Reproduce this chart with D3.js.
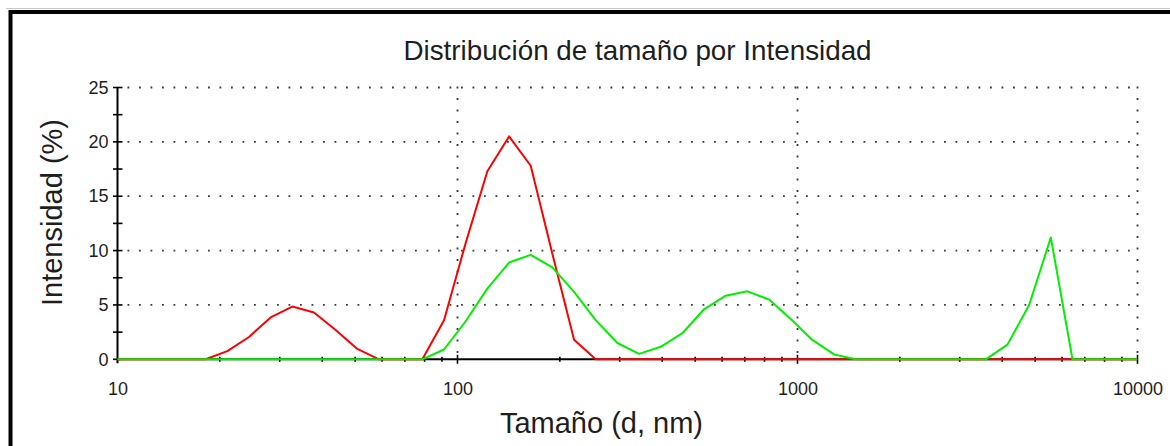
<!DOCTYPE html>
<html>
<head>
<meta charset="utf-8">
<script src="https://cdn.jsdelivr.net/npm/d3@7/dist/d3.min.js"></script>
<style>
  html, body { margin: 0; padding: 0; background: #fff; }
  svg { display: block; }
  text { font-family: "Liberation Sans", Arial, sans-serif; fill: #1e1e1e; }
</style>
</head>
<body>
<script>
// Size classes (d, nm) of the distribution, log-spaced
const sizes = [8.721, 10.1, 11.7, 13.54, 15.69, 18.17, 21.04, 24.36, 28.21, 32.67,
  37.84, 43.82, 50.75, 58.77, 68.06, 78.82, 91.28, 105.7, 122.4, 141.8,
  164.2, 190.1, 220.2, 255, 295.3, 342, 396.1, 458.7, 531.2, 615.1,
  712.4, 825, 955.4, 1106, 1281, 1484, 1718, 1990, 2305, 2669,
  3091, 3580, 4145, 4801, 5560, 6439, 7456, 8635, 10000];

// Intensity (%) per size class, record 1 (red)
const redPct = [0, 0, 0, 0, 0, 0, 0.75, 2.05, 3.85, 4.85,
  4.3, 2.7, 0.95, 0, 0, 0, 3.6, 10.7, 17.3, 20.5,
  17.8, 9.7, 1.8, 0, 0, 0, 0, 0, 0, 0,
  0, 0, 0, 0, 0, 0, 0, 0, 0, 0,
  0, 0, 0, 0, 0, 0, 0, 0, 0];

// Intensity (%) per size class, record 2 (green)
const greenPct = [0, 0, 0, 0, 0, 0, 0, 0, 0, 0,
  0, 0, 0, 0, 0, 0, 0.9, 3.5, 6.5, 8.9,
  9.6, 8.45, 6.2, 3.6, 1.5, 0.5, 1.15, 2.4, 4.6, 5.85,
  6.25, 5.5, 3.7, 1.78, 0.45, 0, 0, 0, 0, 0,
  0, 0, 1.35, 5.0, 11.2, 0, 0, 0, 0];

const xTickLabels = [10, 100, 1000, 10000];
const yTickLabels = [0, 5, 10, 15, 20, 25];
const yMinorTicks = [2.5, 7.5, 12.5, 17.5, 22.5];

const W = 1170, H = 446;
const plotL = 117.5, plotR = 1137.5, plotT = 87.5, plotB = 359.3;

const x = d3.scaleLog().domain([10, 10000]).range([plotL, plotR]);
const y = d3.scaleLinear().domain([0, 25]).range([plotB, plotT]);

const svg = d3.select("body").append("svg")
  .attr("width", W).attr("height", H);

// window frame
svg.append("line").attr("x1", 6).attr("x2", W).attr("y1", 8.5).attr("y2", 8.5)
  .attr("stroke", "#c8c8c8").attr("stroke-width", 1);
svg.append("path").attr("d", `M10.5,${H} V12 H${W}`)
  .attr("fill", "none").attr("stroke", "#000").attr("stroke-width", 4);

// title
svg.append("text").attr("x", 637.5).attr("y", 60)
  .attr("text-anchor", "middle").attr("font-size", 27.8)
  .text("Distribución de tamaño por Intensidad");

// dotted grid
const grid = svg.append("g").attr("stroke", "#3a3a3a").attr("stroke-width", 1.8)
  .attr("stroke-dasharray", "1.8 9.7");
grid.selectAll("line.h").data(yTickLabels.filter(d => d > 0)).join("line")
  .attr("class", "h")
  .attr("x1", plotL + 10).attr("x2", plotR + 1)
  .attr("y1", d => y(d)).attr("y2", d => y(d));
grid.selectAll("line.v").data(xTickLabels.filter(d => d > 10)).join("line")
  .attr("class", "v")
  .attr("x1", d => x(d)).attr("x2", d => x(d))
  .attr("y1", plotT - 0.9).attr("y2", plotB - 4);

// axis lines
svg.append("line").attr("x1", plotL).attr("x2", plotL).attr("y1", plotT).attr("y2", plotB + 4)
  .attr("stroke", "#000").attr("stroke-width", 2);
svg.append("line").attr("x1", plotL).attr("x2", plotR).attr("y1", plotB).attr("y2", plotB)
  .attr("stroke", "#000").attr("stroke-width", 2);

// y ticks (crossing the axis)
const yTicks = svg.append("g").attr("stroke", "#000").attr("stroke-width", 1.6);
yTicks.selectAll("line").data(yTickLabels.concat(yMinorTicks)).join("line")
  .attr("x1", plotL - 4.5).attr("x2", plotL + 5)
  .attr("y1", d => y(d)).attr("y2", d => y(d));

// x ticks (minor decades and majors)
const xMinor = x.ticks().filter(d => !xTickLabels.includes(d));
const xTicks = svg.append("g").attr("stroke", "#000").attr("stroke-width", 1.6);
xTicks.selectAll("line.mi").data(xMinor).join("line").attr("class", "mi")
  .attr("x1", d => x(d)).attr("x2", d => x(d))
  .attr("y1", plotB - 2.5).attr("y2", plotB + 2.5);
xTicks.selectAll("line.ma").data(xTickLabels.filter(d => d > 10)).join("line").attr("class", "ma")
  .attr("x1", d => x(d)).attr("x2", d => x(d))
  .attr("y1", plotB - 4.5).attr("y2", plotB + 4.5);

// tick labels via d3 axes
const yAxisG = svg.append("g").attr("transform", `translate(${plotL},0)`)
  .call(d3.axisLeft(y).tickValues(yTickLabels).tickSize(0).tickPadding(9).tickFormat(d3.format("d")));
const xAxisG = svg.append("g").attr("transform", `translate(0,${plotB})`)
  .call(d3.axisBottom(x).tickValues(xTickLabels).tickSize(0).tickPadding(23).tickFormat(d3.format("d")));
[yAxisG, xAxisG].forEach(g => {
  g.select(".domain").remove();
  g.selectAll("text").attr("font-size", 18).attr("fill", "#1e1e1e")
    .style("font-family", '"Liberation Sans", Arial, sans-serif');
});

// axis titles
svg.append("text").attr("x", 601.5).attr("y", 433)
  .attr("text-anchor", "middle").attr("font-size", 29)
  .text("Tamaño (d, nm)");
svg.append("text").attr("transform", "translate(62,212.5) rotate(-90)")
  .attr("text-anchor", "middle").attr("font-size", 29)
  .text("Intensidad (%)");

// distribution curves
svg.append("defs").append("clipPath").attr("id", "plot")
  .append("rect").attr("x", plotL).attr("y", plotT - 5)
  .attr("width", plotR - plotL).attr("height", plotB - plotT + 10);

const line = d3.line()
  .x(d => x(d[0]))
  .y(d => y(d[1]));

const curves = svg.append("g").attr("clip-path", "url(#plot)");
curves.append("path")
  .datum(sizes.map((s, i) => [s, redPct[i]]))
  .attr("d", line).attr("fill", "none")
  .attr("stroke", "#ff0000").attr("stroke-width", 2).attr("stroke-linejoin", "round");
curves.append("path")
  .datum(sizes.map((s, i) => [s, greenPct[i]]))
  .attr("d", line).attr("fill", "none")
  .attr("stroke", "#00f000").attr("stroke-width", 2).attr("stroke-linejoin", "round");
</script>
</body>
</html>
